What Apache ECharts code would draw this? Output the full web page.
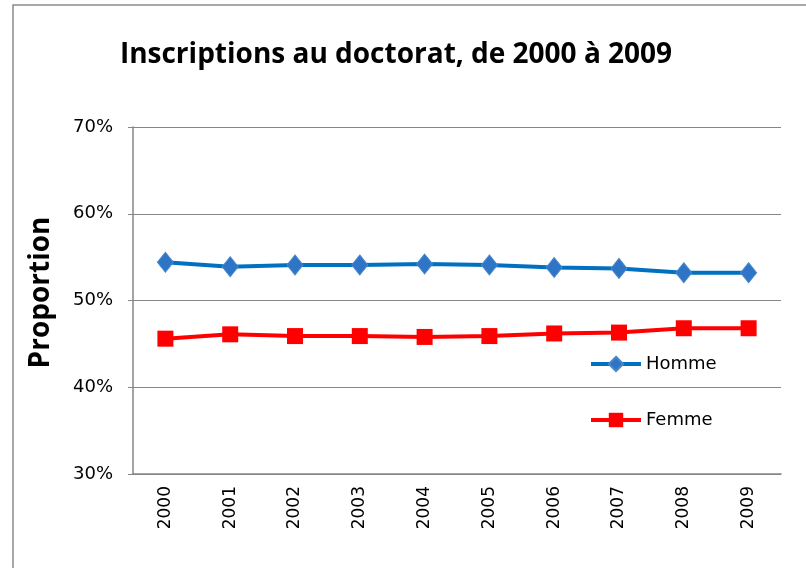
<!DOCTYPE html>
<html>
<head>
<meta charset="utf-8">
<script src="https://cdn.jsdelivr.net/npm/echarts@6/dist/echarts.min.js"></script>
<style>
  html, body { margin: 0; padding: 0; background: #fff; }
  #chart { width: 806px; height: 568px; }
</style>
</head>
<body>
<div id="chart"></div>
<script>
const years = ["2000", "2001", "2002", "2003", "2004", "2005", "2006", "2007", "2008", "2009"];
const homme = [0.544, 0.539, 0.541, 0.541, 0.542, 0.541, 0.538, 0.537, 0.532, 0.532];
const femme = [0.456, 0.461, 0.459, 0.459, 0.458, 0.459, 0.462, 0.463, 0.468, 0.468];
const yTicks = [0.3, 0.4, 0.5, 0.6, 0.7];

let myChart = echarts.init(document.getElementById("chart"));

const option = {
  animation: false,
  backgroundColor: "#fff",
  graphic: [
    {
      type: "rect",
      shape: { x: 13, y: 5, width: 820, height: 600 },
      style: { fill: "none", stroke: "#8c8c8c", lineWidth: 1.5 },
      silent: true,
    },
  ],
  title: {
    text: "Inscriptions au doctorat, de 2000 à 2009",
    left: 391,
    textAlign: "center",
    top: 36,
    textStyle: {
      fontFamily: "Open Sans",
      fontWeight: "bold",
      fontSize: 28,
      color: "#000",
    },
  },
  legend: {
    orient: "vertical",
    left: 584,
    top: 350,
    itemGap: 38,
    itemWidth: 50,
    itemHeight: 18,
    lineStyle: { width: 4 },
    textStyle: { fontFamily: "DejaVu Sans", fontSize: 18, color: "#000" },
    data: ["Homme", "Femme"],
  },
  grid: {
    left: 133,
    right: 25,
    top: 127,
    bottom: 94,
  },
  xAxis: {
    type: "category",
    data: years,
    boundaryGap: true,
    axisLine: { lineStyle: { color: "#868686", width: 1.5 } },
    axisTick: { show: false },
    axisLabel: {
      rotate: 90,
      margin: 12,
      fontFamily: "DejaVu Sans",
      fontSize: 17,
      color: "#000",
    },
  },
  yAxis: {
    type: "value",
    min: yTicks[0],
    max: yTicks[yTicks.length - 1],
    interval: 0.1,
    name: "Proportion",
    nameLocation: "middle",
    nameGap: 78,
    nameTextStyle: {
      fontFamily: "Open Sans",
      fontWeight: "bold",
      fontSize: 28,
      color: "#000",
      padding: [0, 0, 0, 16],
    },
    axisLine: { show: true, lineStyle: { color: "#868686", width: 1.5 } },
    axisTick: { show: true, length: 5, lineStyle: { color: "#868686" } },
    axisLabel: {
      margin: 20,
      fontFamily: "DejaVu Sans",
      fontSize: 18,
      color: "#000",
      formatter: (v) => Math.round(v * 100) + "%",
    },
    splitLine: { show: true, lineStyle: { color: "#868686", width: 1.2 } },
  },
  series: [
    {
      name: "Homme",
      type: "line",
      data: homme,
      symbol: "diamond",
      symbolSize: [16, 20],
      lineStyle: { color: "#0070C0", width: 4 },
      itemStyle: { color: "#2E75C8", borderColor: "#4A86C8", borderWidth: 1 },
    },
    {
      name: "Femme",
      type: "line",
      data: femme,
      symbol: "rect",
      symbolSize: 16,
      lineStyle: { color: "#FF0000", width: 4 },
      itemStyle: { color: "#FF0000" },
    },
  ],
};

myChart.setOption(option);
</script>
</body>
</html>
